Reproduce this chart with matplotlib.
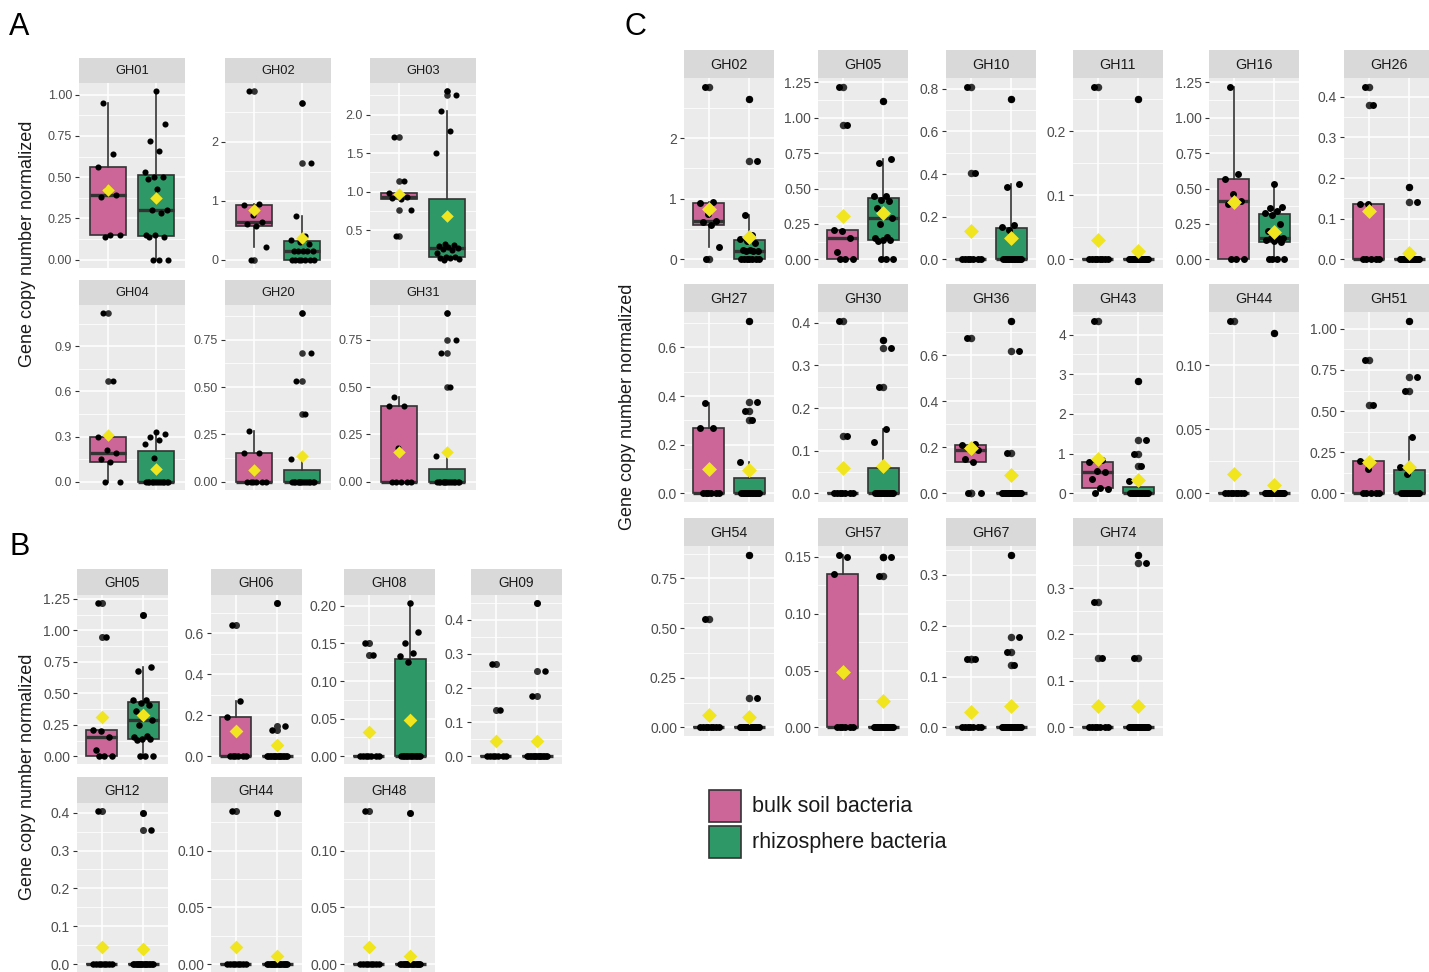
import numpy as np
import matplotlib
matplotlib.use('Agg')
import matplotlib.pyplot as plt
from matplotlib.patches import Rectangle

plt.rcParams['font.family'] = ['Liberation Sans', 'DejaVu Sans']

# ---- data: values per facet (bulk soil / rhizosphere) ----

A_bulk = {
    'GH01': [0.14, 0.15, 0.15, 0.38, 0.39, 0.43, 0.56, 0.64, 0.95],
    'GH02': [0, 0.21, 0.57, 0.61, 0.63, 0.75, 0.93, 0.95, 2.85],
    'GH03': [0.42, 0.76, 0.90, 0.92, 0.93, 0.96, 0.98, 1.14, 1.71],
    'GH04': [0, 0, 0.13, 0.15, 0.19, 0.21, 0.30, 0.67, 1.12],
    'GH20': [0, 0, 0, 0, 0, 0, 0.15, 0.15, 0.27],
    'GH31': [0, 0, 0, 0, 0, 0.18, 0.40, 0.40, 0.45],
}
A_rhizo = {
    'GH01': [0, 0, 0, 0.14, 0.14, 0.15, 0.15, 0.28, 0.30, 0.30, 0.43, 0.49, 0.50, 0.50, 0.53, 0.66, 0.72, 0.82, 1.02],
    'GH02': [0, 0, 0, 0, 0, 0, 0, 0.14, 0.14, 0.14, 0.15, 0.15, 0.27, 0.30, 0.34, 0.40, 0.74, 1.63, 2.65],
    'GH03': [0.12, 0.13, 0.14, 0.14, 0.15, 0.15, 0.20, 0.25, 0.26, 0.27, 0.28, 0.30, 0.31, 0.32, 1.50, 1.79, 2.04, 2.25, 2.30],
    'GH04': [0, 0, 0, 0, 0, 0, 0, 0, 0, 0, 0, 0, 0, 0.16, 0.25, 0.28, 0.30, 0.32, 0.33],
    'GH20': [0, 0, 0, 0, 0, 0, 0, 0, 0, 0, 0, 0, 0, 0, 0.12, 0.36, 0.53, 0.68, 0.89],
    'GH31': [0, 0, 0, 0, 0, 0, 0, 0, 0, 0, 0, 0, 0, 0, 0.135, 0.50, 0.68, 0.75, 0.89],
}
A_ticks = {
    'GH01': [0, 0.25, 0.5, 0.75, 1.0],
    'GH02': [0, 1, 2],
    'GH03': [0.5, 1.0, 1.5, 2.0],
    'GH04': [0, 0.3, 0.6, 0.9],
    'GH20': [0, 0.25, 0.5, 0.75],
    'GH31': [0, 0.25, 0.5, 0.75],
}

B_bulk = {
    'GH05': [0, 0, 0, 0.05, 0.15, 0.20, 0.21, 0.95, 1.22],
    'GH06': [0, 0, 0, 0, 0, 0, 0.19, 0.27, 0.64],
    'GH08': [0, 0, 0, 0, 0, 0, 0, 0.135, 0.15],
    'GH09': [0, 0, 0, 0, 0, 0, 0, 0.135, 0.27],
    'GH12': [0, 0, 0, 0, 0, 0, 0, 0, 0.405],
    'GH44': [0, 0, 0, 0, 0, 0, 0, 0, 0.135],
    'GH48': [0, 0, 0, 0, 0, 0, 0, 0, 0.135],
}
B_rhizo = {
    'GH05': [0, 0, 0, 0.13, 0.14, 0.14, 0.15, 0.16, 0.25, 0.29, 0.33, 0.36, 0.41, 0.42, 0.45, 0.45, 0.68, 0.71, 1.12],
    'GH06': [0, 0, 0, 0, 0, 0, 0, 0, 0, 0, 0, 0, 0, 0, 0, 0, 0.13, 0.15, 0.75],
    'GH08': [0, 0, 0, 0, 0, 0, 0, 0, 0, 0, 0, 0, 0, 0.125, 0.133, 0.137, 0.15, 0.165, 0.204],
    'GH09': [0, 0, 0, 0, 0, 0, 0, 0, 0, 0, 0, 0, 0, 0, 0, 0, 0.177, 0.25, 0.45],
    'GH12': [0, 0, 0, 0, 0, 0, 0, 0, 0, 0, 0, 0, 0, 0, 0, 0, 0, 0.355, 0.40],
    'GH44': [0, 0, 0, 0, 0, 0, 0, 0, 0, 0, 0, 0, 0, 0, 0, 0, 0, 0, 0.133],
    'GH48': [0, 0, 0, 0, 0, 0, 0, 0, 0, 0, 0, 0, 0, 0, 0, 0, 0, 0, 0.133],
}
B_ticks = {
    'GH05': [0, 0.25, 0.5, 0.75, 1.0, 1.25],
    'GH06': [0, 0.2, 0.4, 0.6],
    'GH08': [0, 0.05, 0.1, 0.15, 0.2],
    'GH09': [0, 0.1, 0.2, 0.3, 0.4],
    'GH12': [0, 0.1, 0.2, 0.3, 0.4],
    'GH44': [0, 0.05, 0.1],
    'GH48': [0, 0.05, 0.1],
}

C_bulk = {
    'GH02': A_bulk['GH02'],
    'GH05': B_bulk['GH05'],
    'GH10': [0, 0, 0, 0, 0, 0, 0, 0.405, 0.81],
    'GH11': [0, 0, 0, 0, 0, 0, 0, 0, 0.27],
    'GH16': [0, 0, 0, 0.39, 0.41, 0.46, 0.57, 0.60, 1.22],
    'GH26': [0, 0, 0, 0, 0, 0.135, 0.135, 0.38, 0.425],
    'GH27': [0, 0, 0, 0, 0, 0, 0.27, 0.27, 0.37],
    'GH30': [0, 0, 0, 0, 0, 0, 0, 0.135, 0.405],
    'GH36': [0, 0, 0.135, 0.15, 0.19, 0.20, 0.21, 0.215, 0.675],
    'GH43': [0, 0.12, 0.13, 0.36, 0.55, 0.57, 0.80, 0.83, 4.35],
    'GH44': [0, 0, 0, 0, 0, 0, 0, 0, 0.135],
    'GH51': [0, 0, 0, 0, 0, 0.15, 0.195, 0.54, 0.81],
    'GH54': [0, 0, 0, 0, 0, 0, 0, 0, 0.545],
    'GH57': [0, 0, 0, 0, 0, 0, 0.135, 0.15, 0.152],
    'GH67': [0, 0, 0, 0, 0, 0, 0, 0.135, 0.135],
    'GH74': [0, 0, 0, 0, 0, 0, 0, 0.15, 0.27],
}
C_rhizo = {
    'GH02': A_rhizo['GH02'],
    'GH05': B_rhizo['GH05'],
    'GH10': [0, 0, 0, 0, 0, 0, 0, 0, 0, 0, 0, 0, 0, 0.14, 0.15, 0.16, 0.34, 0.355, 0.75],
    'GH11': [0, 0, 0, 0, 0, 0, 0, 0, 0, 0, 0, 0, 0, 0, 0, 0, 0, 0, 0.25],
    'GH16': [0, 0, 0, 0, 0.12, 0.13, 0.14, 0.15, 0.15, 0.15, 0.17, 0.20, 0.25, 0.31, 0.33, 0.34, 0.36, 0.37, 0.53],
    'GH26': [0, 0, 0, 0, 0, 0, 0, 0, 0, 0, 0, 0, 0, 0, 0, 0, 0, 0.14, 0.177],
    'GH27': [0, 0, 0, 0, 0, 0, 0, 0, 0, 0, 0, 0, 0, 0, 0.13, 0.30, 0.34, 0.375, 0.71],
    'GH30': [0, 0, 0, 0, 0, 0, 0, 0, 0, 0, 0, 0, 0, 0, 0.12, 0.15, 0.25, 0.34, 0.36],
    'GH36': [0, 0, 0, 0, 0, 0, 0, 0, 0, 0, 0, 0, 0, 0, 0, 0, 0.175, 0.62, 0.75],
    'GH43': [0, 0, 0, 0, 0, 0, 0, 0, 0, 0, 0, 0, 0, 0, 0.30, 0.70, 0.98, 1.35, 2.83],
    'GH44': [0, 0, 0, 0, 0, 0, 0, 0, 0, 0, 0, 0, 0, 0, 0, 0, 0, 0, 0.125],
    'GH51': [0, 0, 0, 0, 0, 0, 0, 0, 0, 0, 0, 0, 0, 0.12, 0.16, 0.34, 0.62, 0.71, 1.05],
    'GH54': [0, 0, 0, 0, 0, 0, 0, 0, 0, 0, 0, 0, 0, 0, 0, 0, 0, 0.15, 0.87],
    'GH57': [0, 0, 0, 0, 0, 0, 0, 0, 0, 0, 0, 0, 0, 0, 0, 0, 0.133, 0.15, 0.15],
    'GH67': [0, 0, 0, 0, 0, 0, 0, 0, 0, 0, 0, 0, 0, 0, 0, 0.123, 0.149, 0.177, 0.34],
    'GH74': [0, 0, 0, 0, 0, 0, 0, 0, 0, 0, 0, 0, 0, 0, 0, 0, 0.15, 0.353, 0.372],
}
C_ticks = {
    'GH02': [0, 1, 2],
    'GH05': [0, 0.25, 0.5, 0.75, 1.0, 1.25],
    'GH10': [0, 0.2, 0.4, 0.6, 0.8],
    'GH11': [0, 0.1, 0.2],
    'GH16': [0, 0.25, 0.5, 0.75, 1.0, 1.25],
    'GH26': [0, 0.1, 0.2, 0.3, 0.4],
    'GH27': [0, 0.2, 0.4, 0.6],
    'GH30': [0, 0.1, 0.2, 0.3, 0.4],
    'GH36': [0, 0.2, 0.4, 0.6],
    'GH43': [0, 1, 2, 3, 4],
    'GH44': [0, 0.05, 0.1],
    'GH51': [0, 0.25, 0.5, 0.75, 1.0],
    'GH54': [0, 0.25, 0.5, 0.75],
    'GH57': [0, 0.05, 0.1, 0.15],
    'GH67': [0, 0.1, 0.2, 0.3],
    'GH74': [0, 0.1, 0.2, 0.3],
}

groups = ['bulk soil bacteria', 'rhizosphere bacteria']
fills = ['#CC6699', '#2E9966']
yellow = '#F0E51E'

# ---- figure ----

W, H = 1429, 972
fig = plt.figure(figsize=(W / 100, H / 100), dpi=100)


def tick_labels(ticks):
    dec = max(len(repr(float(t)).split('.')[1].rstrip('0')) for t in ticks)
    return [f'{t:.{dec}f}' for t in ticks]


def facet(x, top, w, sh, ph, name, bulk, rhizo, ticks, st):
    strip = fig.add_axes([x / W, 1 - (top + sh) / H, w / W, sh / H])
    strip.set_facecolor('#D9D9D9')
    strip.set_xticks([])
    strip.set_yticks([])
    for s in strip.spines.values():
        s.set_visible(False)
    strip.text(0.5, 0.47, name, ha='center', va='center', fontsize=st['strip'], color='#1A1A1A',
               transform=strip.transAxes)

    ax = fig.add_axes([x / W, 1 - (top + sh + ph) / H, w / W, ph / H])
    ax.set_facecolor('#EBEBEB')
    for s in ax.spines.values():
        s.set_visible(False)
    ax.set_axisbelow(True)

    data = [bulk, rhizo]
    bp = ax.boxplot(data, positions=[1, 2], widths=0.75, patch_artist=True, showcaps=False,
                    whis=1.5, manage_ticks=False,
                    boxprops=dict(edgecolor='#333333', linewidth=1.2),
                    whiskerprops=dict(color='#333333', linewidth=1.2),
                    medianprops=dict(color='#333333', linewidth=2.4, solid_capstyle='butt'),
                    flierprops=dict(marker='o', markerfacecolor='#333333', markeredgecolor='none',
                                    markersize=st['dot'] * 1.08))
    for patch, c in zip(bp['boxes'], fills):
        patch.set_facecolor(c)

    for i, vals in enumerate(data):
        v = np.array(vals, dtype=float)
        off = ((np.arange(len(v)) * 0.618034 + 0.37) % 1 - 0.5) * 0.5
        ax.scatter(i + 1 + off, v, s=st['dot'] ** 2, color='black', linewidths=0, zorder=3)
        ax.scatter([i + 1], [v.mean()], marker='D', s=st['dia'] ** 2, color=yellow,
                   linewidths=0, zorder=4)

    lo = min(min(bulk), min(rhizo))
    hi = max(max(bulk), max(rhizo))
    pad = 0.05 * (hi - lo)
    ax.set_ylim(lo - pad, hi + pad)
    ax.set_xlim(0.4, 2.6)

    step = ticks[1] - ticks[0]
    minor = np.arange(ticks[0] - step / 2, ticks[-1] + step, step)
    minor = minor[(minor > lo - pad) & (minor < hi + pad)]
    ax.set_yticks(ticks, labels=tick_labels(ticks))
    ax.set_yticks(minor, minor=True)
    ax.set_xticks([1, 2])
    ax.tick_params(axis='y', which='major', length=3, width=0.8, color='#333333',
                   labelcolor='#4D4D4D', labelsize=st['tick'], pad=2)
    ax.tick_params(axis='y', which='minor', length=0)
    ax.tick_params(axis='x', length=0, labelbottom=False)
    ax.grid(which='major', color='white', linewidth=1.1)
    ax.grid(which='minor', axis='y', color='white', linewidth=0.55)
    return ax


def panel(bulk, rhizo, ticks, cols_x, rows_top, w, sh, ph, ncol, st):
    for k, name in enumerate(bulk):
        r, c = divmod(k, ncol)
        facet(cols_x[c], rows_top[r], w, sh, ph, name, bulk[name], rhizo[name], ticks[name], st)


panel(A_bulk, A_rhizo, A_ticks, [79, 225, 370], [58, 280], 106, 25, 185, 3,
      dict(tick=9, strip=9.3, dot=4.4, dia=6.4))
panel(B_bulk, B_rhizo, B_ticks, [77, 211, 344, 471], [569, 777], 91, 26, 169, 4,
      dict(tick=10, strip=9.8, dot=4.7, dia=7.0))
panel(C_bulk, C_rhizo, C_ticks, [684, 818, 946, 1073, 1209, 1344], [50, 284, 518], 90, 28, 190, 6,
      dict(tick=10, strip=10.3, dot=5.0, dia=7.6))

ylab = 'Gene copy number normalized'
fig.text(28 / W, 1 - 244 / H, ylab, rotation=90, ha='center', va='center', fontsize=13, color='#1A1A1A')
fig.text(28 / W, 1 - 777 / H, ylab, rotation=90, ha='center', va='center', fontsize=13, color='#1A1A1A')
fig.text(627 / W, 1 - 407 / H, ylab, rotation=90, ha='center', va='center', fontsize=13, color='#1A1A1A')

fig.text(9 / W, 1 - 12 / H, 'A', fontsize=22, va='top', ha='left')
fig.text(9 / W, 1 - 532 / H, 'B', fontsize=22, va='top', ha='left')
fig.text(625 / W, 1 - 12 / H, 'C', fontsize=22, va='top', ha='left')

# legend keys, drawn in figure pixels
for k, (lab, c) in enumerate(zip(groups, fills)):
    ky = 790 + 36 * k
    fig.patches.append(Rectangle((709 / W, 1 - (ky + 32) / H), 32 / W, 32 / H, facecolor=c,
                                 edgecolor='#333333', linewidth=1.2, transform=fig.transFigure))
    fig.text(752 / W, 1 - (ky + 16) / H, lab, fontsize=15.5, va='center', ha='left', color='#1A1A1A')

fig.savefig('out.png', dpi=100)
